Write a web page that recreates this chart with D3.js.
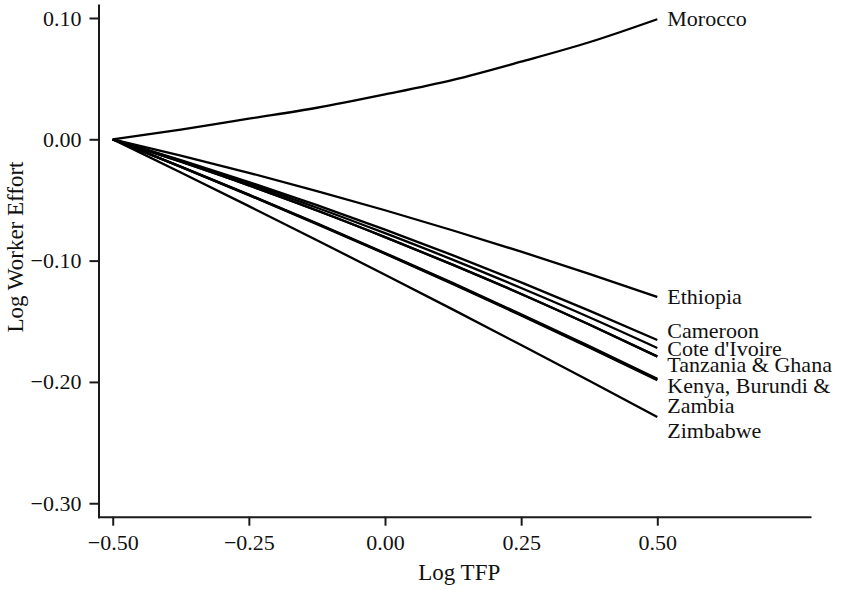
<!DOCTYPE html>
<html>
<head>
<meta charset="utf-8">
<script src="https://cdn.jsdelivr.net/npm/d3@7"></script>
<style>
  html, body { margin: 0; padding: 0; background: #ffffff; }
  svg { display: block; }
  text { font-family: "Liberation Serif", "Times New Roman", serif; }
</style>
</head>
<body>
<script>
// ---------------- DATA ----------------
const xTicks = [-0.5, -0.25, 0, 0.25, 0.5];
const yTicks = [0.1, 0, -0.1, -0.2, -0.3];
const logTFP = [-0.5, -0.375, -0.25, -0.125, 0, 0.125, 0.25, 0.375, 0.5];

const morocco   = [0, 0.008, 0.017, 0.026, 0.037, 0.049, 0.064, 0.080, 0.099];
const ethiopia  = [0, -0.0134, -0.0276, -0.0427, -0.0585, -0.0752, -0.0926, -0.1109, -0.130];
const cameroon  = [0, -0.0171, -0.0352, -0.0543, -0.0745, -0.0957, -0.1179, -0.1412, -0.1655];
const coteIvoire= [0, -0.0177, -0.0366, -0.0564, -0.0774, -0.0994, -0.1226, -0.1467, -0.172];
const tanzania  = [0, -0.0185, -0.0380, -0.0587, -0.0806, -0.1035, -0.1275, -0.1527, -0.179];
const ghana     = [0, -0.0185, -0.0380, -0.0587, -0.0806, -0.1035, -0.1275, -0.1527, -0.179];
const kenya     = [0, -0.0225, -0.0456, -0.0693, -0.0937, -0.1186, -0.1442, -0.1704, -0.1975];
const burundi   = [0, -0.0226, -0.0458, -0.0696, -0.0941, -0.1191, -0.1448, -0.1711, -0.198];
const zambia    = [0, -0.0227, -0.0460, -0.0699, -0.0944, -0.1195, -0.1452, -0.1716, -0.1985];
const zimbabwe  = [0, -0.0274, -0.0551, -0.0832, -0.1116, -0.1404, -0.1696, -0.1991, -0.229];

const seriesNames = ["Morocco", "Ethiopia", "Cameroon", "Cote d'Ivoire", "Tanzania", "Ghana",
                     "Kenya", "Burundi", "Zambia", "Zimbabwe"];
const seriesValues = [morocco, ethiopia, cameroon, coteIvoire, tanzania, ghana,
                      kenya, burundi, zambia, zimbabwe];

// labels: text lines and which series' end they attach to
const labelLines = [["Morocco"], ["Ethiopia"], ["Cameroon"], ["Cote d'Ivoire"],
                    ["Tanzania & Ghana"], ["Kenya, Burundi &", "Zambia"], ["Zimbabwe"]];
const labelAnchors = [morocco, ethiopia, cameroon, coteIvoire, tanzania, burundi, zimbabwe];

// ---------------- LAYOUT ----------------
const W = 852, H = 590;
const labelShift = [0, 0, -9, 1, 8, 6, 14];   // px nudges, as in the original figure
const fontSize = 22;

const svg = d3.select("body").append("svg").attr("width", W).attr("height", H);

const x = d3.scaleLinear().domain([-0.5261, 0.7804]).range([98.5, 810]);
const y = d3.scaleLinear().domain([-0.3111, 0.1107]).range([516.7, 5]);

const axisColor = "#1a1a1a";

const gx = svg.append("g")
  .attr("transform", `translate(0,${y.range()[0]})`)
  .call(d3.axisBottom(x).tickValues(xTicks).tickFormat(d3.format(".2f"))
        .tickSize(9).tickSizeOuter(0).tickPadding(9));

const gy = svg.append("g")
  .attr("transform", `translate(${x.range()[0]},0)`)
  .call(d3.axisLeft(y).tickValues(yTicks).tickFormat(d3.format(".2f"))
        .tickSize(9).tickSizeOuter(0).tickPadding(8));

[gx, gy].forEach(g => {
  g.select(".domain").attr("stroke", axisColor).attr("stroke-width", 2).attr("stroke-linecap", "square");
  g.selectAll(".tick line").attr("stroke", axisColor).attr("stroke-width", 2);
  g.selectAll(".tick text").attr("fill", "#111").style("font-size", fontSize + "px")
    .style("font-family", '"Liberation Serif", "Times New Roman", serif');
});

// axis titles
svg.append("text")
  .attr("x", (x.range()[0] + x.range()[1]) / 2 + 5)
  .attr("y", 580)
  .attr("text-anchor", "middle")
  .attr("fill", "#111")
  .style("font-size", (fontSize + 1) + "px")
  .text("Log TFP");

svg.append("text")
  .attr("transform", `translate(23,247) rotate(-90)`)
  .attr("text-anchor", "middle")
  .attr("fill", "#111")
  .style("font-size", (fontSize + 1) + "px")
  .text("Log Worker Effort");

// lines
const line = d3.line()
  .x((d, i) => x(logTFP[i]))
  .y(d => y(d))
  .curve(d3.curveMonotoneX);

svg.append("g").selectAll("path")
  .data(seriesValues)
  .join("path")
  .attr("d", d => line(d))
  .attr("fill", "none")
  .attr("stroke", "#000")
  .attr("stroke-width", 2.3)
  .attr("stroke-linejoin", "round");

// labels
const labelX = x(logTFP[logTFP.length - 1]) + 10;
labelLines.forEach((lines, k) => {
  const vals = labelAnchors[k];
  const yEnd = y(vals[vals.length - 1]) + labelShift[k];
  const t = svg.append("text")
    .attr("x", labelX)
    .attr("y", yEnd)
    .attr("fill", "#111")
    .style("font-size", fontSize + "px");
  lines.forEach((s, j) => {
    t.append("tspan").attr("x", labelX).attr("dy", j === 0 ? "0.33em" : "0.93em").text(s);
  });
});
</script>
</body>
</html>
